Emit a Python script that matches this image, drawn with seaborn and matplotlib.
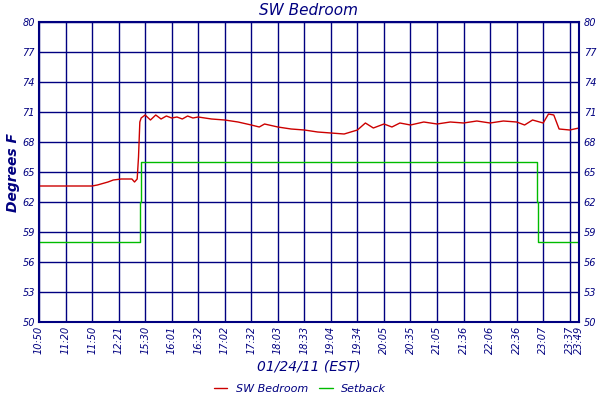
import matplotlib
matplotlib.use("Agg")
import matplotlib.pyplot as plt
import seaborn as sns
import pandas as pd

tick_pos = list(range(21)) + [20.35]
tick_labels = ["10:50", "11:20", "11:50", "12:21", "15:30", "16:01", "16:32", "17:02", "17:32",
               "18:03", "18:33", "19:04", "19:34", "20:05", "20:35", "21:05", "21:36", "22:06",
               "22:36", "23:07", "23:37", "23:49"]

room_x = [0, 1, 2, 2.2, 2.6, 2.8, 3.1, 3.5, 3.6, 3.7, 3.75, 3.8, 3.85, 3.9, 4.0, 4.2, 4.4, 4.6, 4.8,
          5.0, 5.2, 5.4, 5.6, 5.8, 6.0, 6.5, 7.0, 7.5, 8.0, 8.3, 8.5, 9.0, 9.5, 10.0, 10.5,
          11.0, 11.5, 12.0, 12.3, 12.6, 13.0, 13.3, 13.6, 14.0, 14.5, 15.0, 15.5, 16.0, 16.5,
          17.0, 17.5, 18.0, 18.3, 18.6, 19.0, 19.2, 19.4, 19.6, 20.0, 20.35]
room_y = [63.6, 63.6, 63.6, 63.7, 64.0, 64.2, 64.3, 64.3, 64.0, 64.3, 66.5, 70.0, 70.4, 70.5, 70.7,
          70.2, 70.7, 70.3, 70.6, 70.4, 70.5, 70.3, 70.6, 70.4, 70.5, 70.3, 70.2, 70.0, 69.7,
          69.5, 69.8, 69.5, 69.3, 69.2, 69.0, 68.9, 68.8, 69.2, 69.9, 69.4, 69.8, 69.5, 69.9,
          69.7, 70.0, 69.8, 70.0, 69.9, 70.1, 69.9, 70.1, 70.0, 69.7, 70.2, 69.9, 70.8, 70.7,
          69.3, 69.2, 69.4]

set_x = [0, 3.8, 3.8, 3.85, 3.85, 18.75, 18.75, 18.8, 18.8, 20.35]
set_y = [58, 58, 62, 62, 66, 66, 62, 62, 58, 58]

navy = "#000080"
sns.set_style("white")
plt.rcParams["font.family"] = ["DejaVu Sans"]

fig, ax = plt.subplots(figsize=(6, 4), dpi=100)
fig.subplots_adjust(left=0.065, right=0.965, top=0.945, bottom=0.195)

sns.lineplot(data=pd.DataFrame({"x": room_x, "y": room_y}), x="x", y="y", ax=ax,
             color="#cc0000", lw=1, label="SW Bedroom", sort=False, estimator=None)
sns.lineplot(data=pd.DataFrame({"x": set_x, "y": set_y}), x="x", y="y", ax=ax,
             color="#00bb00", lw=1, label="Setback", sort=False, estimator=None)

ax.set_xlim(0, 20.35)
ax.set_ylim(50, 80)
yt = list(range(50, 81, 3))
ax.set_yticks(yt)
ax.set_xticks(tick_pos)
ax.set_xticklabels(tick_labels, rotation=90, fontsize=7, style="italic", color=navy)
ax.set_yticklabels(yt, fontsize=7, style="italic", color=navy)
ax.grid(True, color=navy, lw=1)
for s in ax.spines.values():
    s.set_color(navy)
    s.set_linewidth(1.5)
ax.tick_params(length=0, pad=3)

ax2 = ax.twinx()
ax2.set_ylim(50, 80)
ax2.set_yticks(yt)
ax2.set_yticklabels(yt, fontsize=7, style="italic", color=navy)
ax2.tick_params(length=0)
for s in ax2.spines.values():
    s.set_visible(False)

ax.set_title("SW Bedroom", fontsize=11, style="italic", color=navy, pad=5)
ax.set_xlabel("01/24/11 (EST)", fontsize=10, style="italic", color=navy)
ax.set_ylabel("Degrees F", fontsize=10, style="italic", fontweight="bold", color=navy, labelpad=2)
ax.get_legend().remove()
h, l = ax.get_legend_handles_labels()
leg = fig.legend(h, l, loc="lower center", ncol=2, frameon=False, fontsize=8,
                 bbox_to_anchor=(0.5, -0.01), handlelength=1.2, columnspacing=1)
for t in leg.get_texts():
    t.set_color(navy)
    t.set_style("italic")

fig.savefig("out.png", dpi=100)
